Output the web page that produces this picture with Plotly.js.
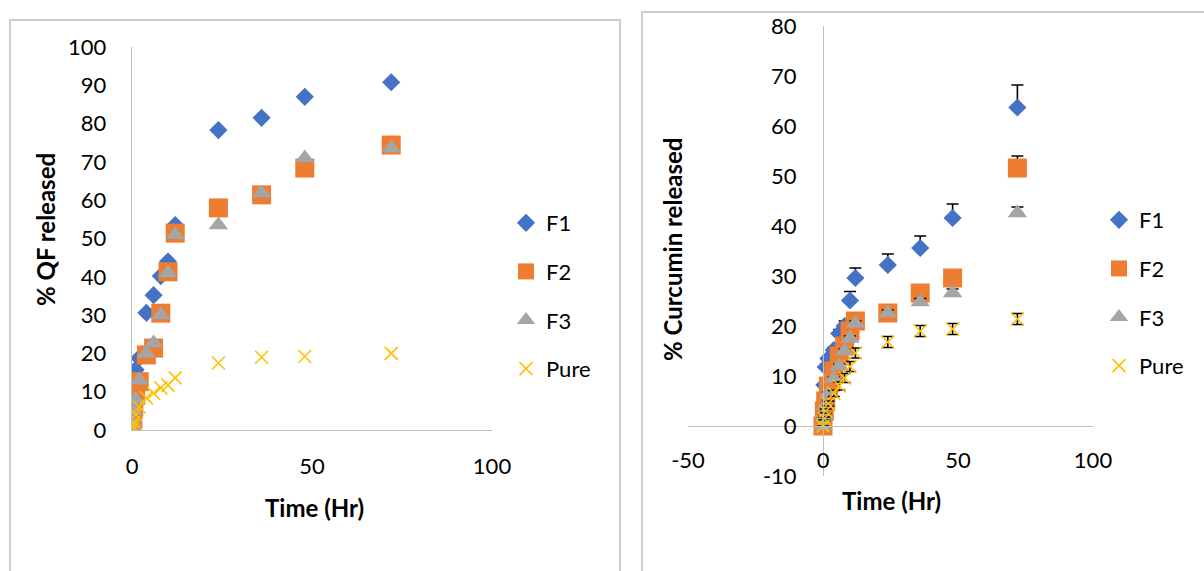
<!DOCTYPE html>
<html>
<head>
<meta charset="utf-8">
<script src="https://cdn.plot.ly/plotly-3.0.1.min.js"></script>
<style>html,body{margin:0;padding:0;background:#fff;}#chart{width:1204px;height:571px;}</style>
</head>
<body>
<div id="chart"></div>
<script>
// ---- Left chart: % QF released ----
const qfTime = [0, 0.25, 0.5, 1, 2, 4, 6, 8, 10, 12, 24, 36, 48, 72];
const qfF1   = [0, 8, 12, 15.7, 18.8, 30.6, 35.2, 40.2, 44, 53.5, 78.3, 81.5, 87, 90.8];
const qfF2   = [0, 3, 6, 9, 12.6, 19.6, 21.4, 30.5, 41.3, 51.4, 58, 61.4, 68.4, 74.4];
const qfF3   = [0, 2, 5, 8, 13, 20, 22.7, 30, 41, 51, 53.5, 61.9, 71, 73.6];
const qfPure = [0, 1, 2, 4, 6, 8.4, 9.6, 11, 11.7, 13.6, 17.5, 19, 19.2, 20];

// ---- Right chart: % Curcumin released ----
const curTime   = [0, 0.5, 1, 2, 4, 6, 8, 10, 12, 24, 36, 48, 72];
const curF1     = [0, 8.2, 11.8, 13.5, 15.2, 18.5, 20, 25.1, 29.6, 32.2, 35.6, 41.6, 63.7];
const curF1Err  = [0, 0.3, 0.5, 0.5, 0.6, 0.8, 1, 1.8, 2, 2.2, 2.4, 2.8, 4.5];
const curF2     = [0, 3, 5, 8, 11, 14, 16, 19, 21, 22.6, 26.6, 29.6, 51.6];
const curF2Err  = [0, 0.2, 0.3, 0.3, 0.4, 0.5, 0.5, 0.6, 0.6, 0.8, 0.9, 1, 2.4];
const curF3     = [0, 2, 4, 6.5, 9.5, 12, 15, 17.5, 20.5, 22.6, 24.8, 26.6, 42.6];
const curF3Err  = [0, 0.2, 0.2, 0.3, 0.3, 0.4, 0.4, 0.5, 0.5, 0.6, 0.7, 0.8, 1.2];
const curPure   = [0, 1.5, 3, 4.5, 6.5, 8, 9.6, 11.9, 14.6, 16.8, 19, 19.4, 21.4];
const curPureErr= [0, 0.3, 0.4, 0.5, 0.6, 0.8, 0.9, 1, 1, 1.1, 1.1, 1.1, 1.1];

// tick labels
const qfXTicks  = [0, 50, 100];
const curXTicks = [-50, 0, 50, 100];
const curXText  = ['-50', '0', '50', '100'];
const curYTicks = [-10, 0, 10, 20, 30, 40, 50, 60, 70, 80];
const curYText  = ['-10', '0', '10', '20', '30', '40', '50', '60', '70', '80'];

const seriesNames = ['F1', 'F2', 'F3', 'Pure'];
const colors  = ['#4472C4', '#ED7D31', '#A5A5A5', '#FFC000'];
const symbols = ['diamond', 'square', 'triangle-up', 'x-thin'];
const sizes   = [14, 19, 17, 13];

const W = 1204, H = 571;
const px = v => v / W;
const py = v => 1 - v / H;
const FONT = 'Lato, "Liberation Sans", Arial, sans-serif';

function mk(i, x, y, xa, ya, leg, err, symmetric) {
  const t = {
    type: 'scatter', mode: 'markers', name: seriesNames[i],
    x: x, y: y, xaxis: xa, yaxis: ya, legend: leg, legendgroup: leg + i,
    marker: { symbol: symbols[i], size: sizes[i], color: colors[i],
              line: i === 3 ? { color: colors[i], width: 1.6 } : { width: 0 } },
    hoverinfo: 'x+y'
  };
  if (err) {
    t.error_y = { type: 'data', array: err, visible: true, color: '#000', thickness: 1.6, width: 6 };
    if (!symmetric) { t.error_y.symmetric = false; t.error_y.arrayminus = err.map(() => 0); }
  }
  return t;
}

const data = [
  mk(0, qfTime, qfF1, 'x', 'y', 'legend'),
  mk(1, qfTime, qfF2, 'x', 'y', 'legend'),
  mk(2, qfTime, qfF3, 'x', 'y', 'legend'),
  mk(3, qfTime, qfPure, 'x', 'y', 'legend'),
  mk(0, curTime, curF1, 'x2', 'y2', 'legend2', curF1Err, false),
  mk(1, curTime, curF2, 'x2', 'y2', 'legend2', curF2Err, false),
  mk(2, curTime, curF3, 'x2', 'y2', 'legend2', curF3Err, false),
  mk(3, curTime, curPure, 'x2', 'y2', 'legend2', curPureErr, true)
];

const axisCommon = {
  showgrid: false, zeroline: false, showline: true, linecolor: '#BFBFBF', linewidth: 1.3,
  ticks: '', tickfont: { family: FONT, size: 22, color: '#000' }, fixedrange: true
};

// Right chart geometry
const x2d = [px(688), px(1093)];
const y2d = [py(476), py(26)];
const x2range = [-50, 100], y2range = [-10, 80];

const legendCommon = {
  font: { family: FONT, size: 22, color: '#000' }, bgcolor: 'rgba(0,0,0,0)',
  traceorder: 'grouped', tracegroupgap: 17, itemwidth: 30, xanchor: 'left', yanchor: 'top'
};

const titleFont = { family: FONT, size: 24, color: '#000' };

const layout = {
  width: W, height: H, margin: { l: 0, r: 0, t: 0, b: 0 },
  paper_bgcolor: '#fff', plot_bgcolor: 'rgba(0,0,0,0)',
  showlegend: true,
  xaxis: Object.assign({}, axisCommon, { domain: [px(132), px(492)], range: [0, 100], tickvals: qfXTicks, anchor: 'y', ticklabelstandoff: 16 }),
  yaxis: Object.assign({}, axisCommon, { domain: [py(430), py(47)], range: [0, 100], dtick: 10, anchor: 'x', ticklabelstandoff: 20 }),
  xaxis2: Object.assign({}, axisCommon, { domain: x2d, range: x2range, tickvals: curXTicks, ticktext: curXText, anchor: 'free',
    position: y2d[0] + (y2d[1] - y2d[0]) * (0 - y2range[0]) / (y2range[1] - y2range[0]), ticklabelstandoff: 14 }),
  yaxis2: Object.assign({}, axisCommon, { domain: y2d, range: y2range, tickvals: curYTicks, ticktext: curYText, anchor: 'free',
    position: x2d[0] + (x2d[1] - x2d[0]) * (0 - x2range[0]) / (x2range[1] - x2range[0]), ticklabelstandoff: 22 }),
  legend: Object.assign({}, legendCommon, { x: px(506), y: py(202) }),
  legend2: Object.assign({}, legendCommon, { x: px(1099), y: py(199) }),
  shapes: [
    { type: 'rect', xref: 'paper', yref: 'paper', x0: px(10), x1: px(620), y0: py(590), y1: py(20),
      line: { color: '#BFBFBF', width: 1.5 }, fillcolor: 'rgba(0,0,0,0)', layer: 'below' },
    { type: 'rect', xref: 'paper', yref: 'paper', x0: px(642), x1: px(1230), y0: py(590), y1: py(12),
      line: { color: '#BFBFBF', width: 1.5 }, fillcolor: 'rgba(0,0,0,0)', layer: 'below' }
  ],
  annotations: [
    { text: '<b>% QF released</b>', xref: 'paper', yref: 'paper', x: px(45), y: py(230), textangle: -90,
      xanchor: 'center', yanchor: 'middle', showarrow: false, font: titleFont },
    { text: '<b>Time (Hr)</b>', xref: 'paper', yref: 'paper', x: px(314), y: py(507),
      xanchor: 'center', yanchor: 'middle', showarrow: false, font: titleFont },
    { text: '<b>% Curcumin released</b>', xref: 'paper', yref: 'paper', x: px(672), y: py(250), textangle: -90,
      xanchor: 'center', yanchor: 'middle', showarrow: false, font: titleFont },
    { text: '<b>Time (Hr)</b>', xref: 'paper', yref: 'paper', x: px(891), y: py(500),
      xanchor: 'center', yanchor: 'middle', showarrow: false, font: titleFont }
  ]
};

Plotly.newPlot('chart', data, layout, { displayModeBar: false, staticPlot: true });
</script>
</body>
</html>
